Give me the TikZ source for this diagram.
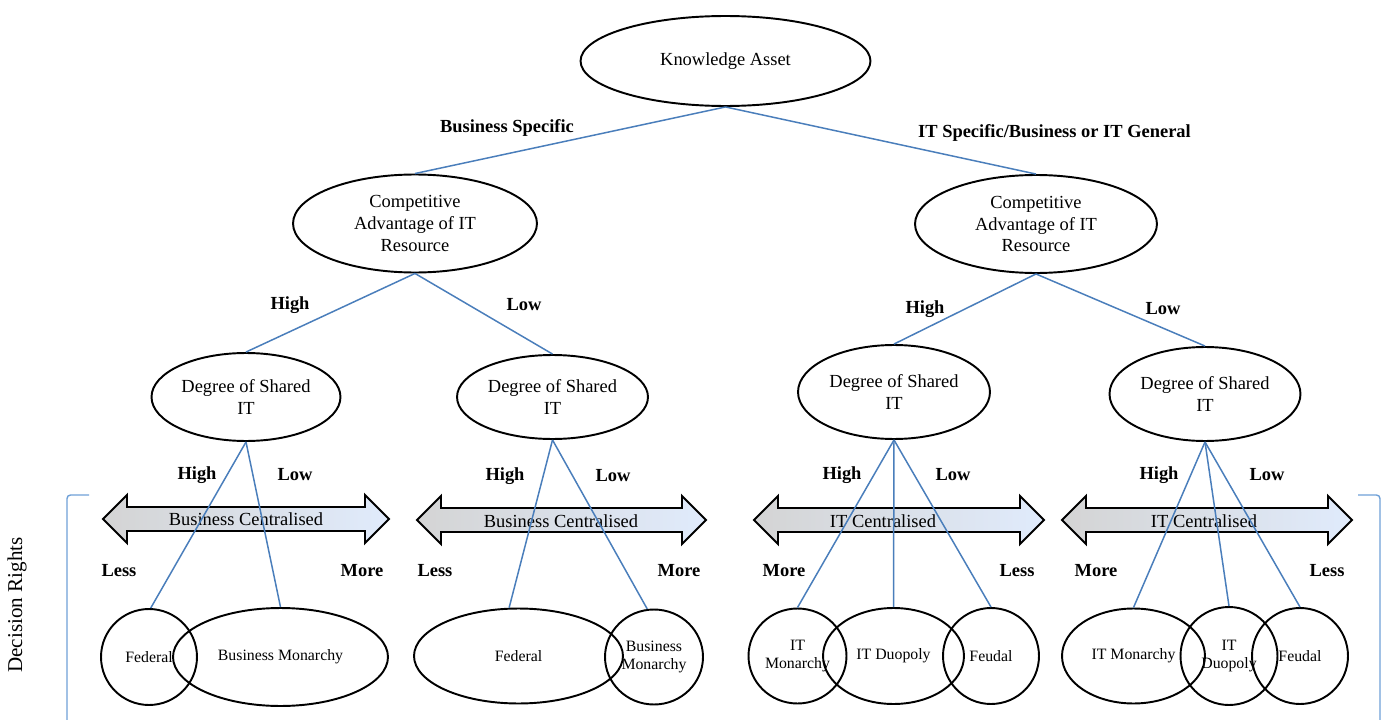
\documentclass[tikz,border=0pt]{standalone}
\usepackage{fontspec}
\setmainfont{Liberation Serif}
\usetikzlibrary{shapes.geometric}

\definecolor{linkblue}{RGB}{74,126,187}
\definecolor{bracketblue}{RGB}{110,160,215}
\definecolor{arrowgray}{RGB}{212,212,212}
\definecolor{arrowblue}{RGB}{224,235,252}

\tikzset{
  oval/.style={ellipse, draw=black, line width=1.1pt, inner sep=0pt, align=center,
    font=\fontsize{10.5}{12.5}\selectfont},
  smalloval/.style={oval, font=\fontsize{9}{10.3}\selectfont},
  link/.style={draw=linkblue, line width=0.85pt},
  lbl/.style={font=\fontsize{10.5}{12.5}\selectfont\bfseries, inner sep=0pt},
  bigarrow/.style={draw=black, line width=1.1pt, left color=arrowgray, right color=arrowblue},
  bracket/.style={draw=bracketblue, line width=0.8pt, rounded corners=2pt},
  bartext/.style={font=\fontsize{10.5}{12.5}\selectfont, inner sep=0pt}
}

% double-headed block arrow: left tip x, right tip x, centre y
\newcommand\dblarrow[3]{%
  \path[bigarrow] (#1,#3) -- (#1+24,#3-24) -- (#1+24,#3-12) -- (#2-24,#3-12)
    -- (#2-24,#3-24) -- (#2,#3) -- (#2-24,#3+24) -- (#2-24,#3+12)
    -- (#1+24,#3+12) -- (#1+24,#3+24) -- cycle;}

\begin{document}
\begin{tikzpicture}[x=0.02cm, y=-0.02cm]
\useasboundingbox (0,0) rectangle (1384,720);

% centralisation scales
\dblarrow{103}{389}{519}
\dblarrow{417}{706}{520}
\dblarrow{754}{1044}{520}
\dblarrow{1062}{1352}{520}
\node[bartext] (bar1) at (246,519) {Business Centralised};
\node[bartext] (bar2) at (561,521) {Business Centralised};
\node[bartext] (bar3) at (883,521) {IT Centralised};
\node[bartext] (bar4) at (1204,521) {IT Centralised};

% decision tree
\node[oval, minimum width=5.8cm, minimum height=1.8cm] (ka) at (725.5,61) {Knowledge Asset};
\node[oval, minimum width=4.88cm, minimum height=1.96cm] (ca1) at (415,223.5)
  {Competitive\\Advantage of IT\\Resource};
\node[oval, minimum width=4.84cm, minimum height=1.96cm] (ca2) at (1036,224)
  {Competitive\\Advantage of IT\\Resource};
\node[oval, minimum width=3.78cm, minimum height=1.76cm] (dsi1) at (246,397) {Degree of Shared\\IT};
\node[oval, minimum width=3.82cm, minimum height=1.68cm] (dsi2) at (552.5,397) {Degree of Shared\\IT};
\node[oval, minimum width=3.84cm, minimum height=1.88cm] (dsi3) at (894,392) {Degree of Shared\\IT};
\node[oval, minimum width=3.82cm, minimum height=1.88cm] (dsi4) at (1205,394) {Degree of Shared\\IT};

% governance archetypes
\node[smalloval, minimum width=1.92cm, minimum height=1.92cm] (fed1) at (149,657) {Federal};
\node[smalloval, minimum width=4.3cm, minimum height=1.96cm] (bm1) at (280.5,657) {Business Monarchy};
\node[smalloval, minimum width=4.18cm, minimum height=1.9cm] (fed2) at (518.5,656) {Federal};
\node[smalloval, minimum width=1.96cm, minimum height=1.9cm] (bm2) at (654,657) {Business\\Monarchy};
\node[smalloval, minimum width=1.96cm, minimum height=1.9cm] (itm3) at (797.5,656) {IT\\Monarchy};
\node[smalloval, minimum width=2.82cm, minimum height=1.92cm] (itd3) at (893.5,656) {IT Duopoly};
\node[smalloval, minimum width=1.92cm, minimum height=1.92cm] (feu3) at (991,656) {Feudal};
\node[smalloval, minimum width=2.86cm, minimum height=1.9cm] (itm4) at (1133.5,656) {IT Monarchy};
\node[smalloval, minimum width=1.94cm, minimum height=1.96cm] (itd4) at (1229,656) {IT\\Duopoly};
\node[smalloval, minimum width=1.92cm, minimum height=1.92cm] (feu4) at (1300,656) {Feudal};

% connectors
\draw[link] (ka.south) -- (ca1.north);
\draw[link] (ka.south) -- (ca2.north);
\draw[link] (ca1.south) -- (dsi1.north);
\draw[link] (ca1.south) -- (dsi2.north);
\draw[link] (ca2.south) -- (dsi3.north);
\draw[link] (ca2.south) -- (dsi4.north);
\draw[link] (dsi1.south) -- (fed1.88);
\draw[link] (dsi1.south) -- (bm1.north);
\draw[link] (dsi2.south) -- (fed2.101);
\draw[link] (dsi2.south) -- (bm2.98);
\draw[link] (dsi3.south) -- (itm3.north);
\draw[link] (dsi3.south) -- (itd3.north);
\draw[link] (dsi3.south) -- (feu3.north);
\draw[link] (dsi4.south) -- (itm4.north);
\draw[link] (dsi4.south) -- (itd4.north);
\draw[link] (dsi4.south) -- (feu4.north);

% branch labels
\node[lbl] (l1) at (507,128) {Business Specific};
\node[lbl] (l2) at (1054.5,133) {IT Specific/Business or IT General};
\node[lbl] (h1) at (290,305) {High};
\node[lbl] (w1) at (524,305) {Low};
\node[lbl] (h2) at (925,309) {High};
\node[lbl] (w2) at (1163,309) {Low};
\node[lbl] (h3) at (197,475) {High};
\node[lbl] (w3) at (295,475) {Low};
\node[lbl] (h4) at (505,476) {High};
\node[lbl] (w4) at (613,476) {Low};
\node[lbl] (h5) at (842,475) {High};
\node[lbl] (w5) at (953,475) {Low};
\node[lbl] (h6) at (1159,475) {High};
\node[lbl] (w6) at (1267,475) {Low};

\node[lbl] (s1) at (119,571) {Less};
\node[lbl] (m1) at (362,571) {More};
\node[lbl] (s2) at (435,571) {Less};
\node[lbl] (m2) at (679,571) {More};
\node[lbl] (m3) at (784,571) {More};
\node[lbl] (s3) at (1017,571) {Less};
\node[lbl] (m4) at (1096,571) {More};
\node[lbl] (s4) at (1327,571) {Less};

% decision rights bracket
\coordinate (bl0) at (89,495);
\coordinate (bl1) at (67,495);
\coordinate (bl2) at (67,722);
\coordinate (br0) at (1358,495);
\coordinate (br1) at (1380,495);
\coordinate (br2) at (1380,722);
\draw[bracket] (bl0) -- (bl1) -- (bl2);
\draw[bracket] (br0) -- (br1) -- (br2);
\node[rotate=90, font=\fontsize{12}{14}\selectfont, inner sep=0pt] (dr) at (17,605) {Decision Rights};
\end{tikzpicture}
\end{document}
